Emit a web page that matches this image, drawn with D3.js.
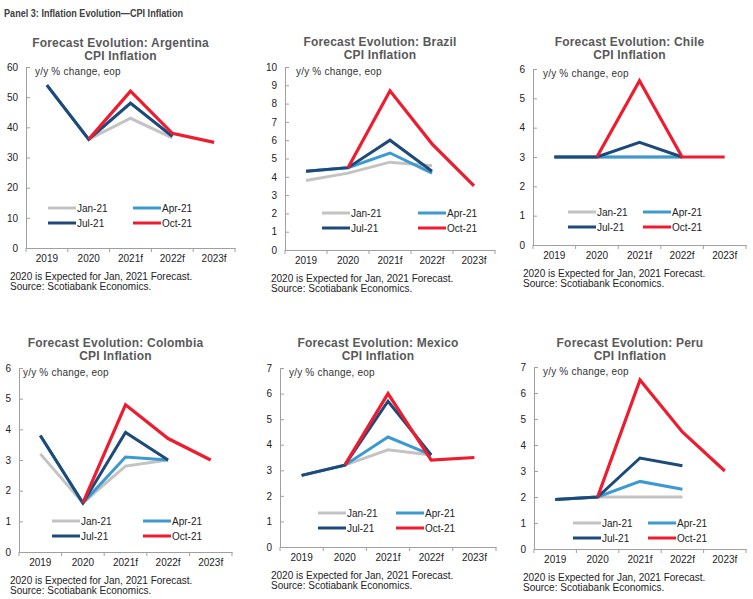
<!DOCTYPE html>
<html>
<head>
<meta charset="utf-8">
<script src="https://cdn.jsdelivr.net/npm/d3@7"></script>
<style>
  body { margin: 0; background: #fff; }
  svg { display: block; font-family: "Liberation Sans", Arial, sans-serif; }
</style>
</head>
<body>
<svg id="chart"></svg>
<script>
// categories
const years = ['2019', '2020', '2021f', '2022f', '2023f'];
const vintages = ['Jan-21', 'Apr-21', 'Jul-21', 'Oct-21'];
const countries = ['Argentina', 'Brazil', 'Chile', 'Colombia', 'Mexico', 'Peru'];
const yMax = [60, 10, 6, 6, 7, 7];
const yStep = [10, 1, 1, 1, 1, 1];

// series, one row per vintage (Jan, Apr, Jul, Oct), null = no value
const argentina = [
    [54, 36, 43, 36.5, null],
    [54, 36, 48, 37, null],
    [54, 36, 48, 37, null],
    [null, 36, 52, 38, 35]
];
const brazil = [
    [3.8, 4.2, 4.8, 4.6, null],
    [4.3, 4.5, 5.3, 4.2, null],
    [4.3, 4.5, 6.0, 4.3, null],
    [null, 4.5, 8.7, 5.8, 3.5]
];
const chile = [
    [3, 3, 3, 3, null],
    [3, 3, 3, 3, null],
    [3, 3, 3.5, 3, null],
    [null, 3, 5.6, 3, 3]
];
const colombia = [
    [3.2, 1.6, 2.8, 3.0, null],
    [3.8, 1.6, 3.1, 3.0, null],
    [3.8, 1.6, 3.9, 3.0, null],
    [null, 1.6, 4.8, 3.7, 3.0]
];
const mexico = [
    [2.8, 3.2, 3.8, 3.6, null],
    [2.8, 3.2, 4.3, 3.6, null],
    [2.8, 3.2, 5.7, 3.6, null],
    [null, 3.2, 6.0, 3.4, 3.5]
];
const peru = [
    [1.9, 2.0, 2.0, 2.0, null],
    [1.9, 2.0, 2.6, 2.3, null],
    [1.9, 2.0, 3.5, 3.2, null],
    [null, 2.0, 6.5, 4.5, 3.0]
];
const seriesByCountry = [argentina, brazil, chile, colombia, mexico, peru];

// layout of each panel (pixels)
const panels = [
    {left: 10, x0: 26, x1: 235, top: 67, bottom: 248, titleY: 47, legX: 22, legX2: 107, legY: 40, yyDx: 9},
    {left: 271, x0: 285, x1: 495, top: 67, bottom: 250, titleY: 46, legX: 37, legX2: 133, legY: 37, yyDx: 11},
    {left: 523, x0: 533, x1: 746, top: 69, bottom: 245, titleY: 46, legX: 35, legX2: 110, legY: 33, yyDx: 10},
    {left: 10, x0: 19, x1: 232, top: 368, bottom: 552, titleY: 347, legX: 33, legX2: 124, legY: 31, yyDx: 4},
    {left: 271, x0: 280, x1: 496, top: 368, bottom: 547, titleY: 347, legX: 38, legX2: 116, legY: 34, yyDx: 9},
    {left: 523, x0: 534, x1: 746, top: 367, bottom: 549, titleY: 347, legX: 39, legX2: 114, legY: 26, yyDx: 9}
];

const colors = ['#c3c3c3', '#3d9ad1', '#1d4a7a', '#ee1c2e'];
const axisColor = '#a0a0a0';

const width = 753;
const height = 599;

let svg = d3.select('#chart')
    .attr('width', width)
    .attr('height', height);

// header
svg.append('text')
    .attr('x', 4)
    .attr('y', 17)
    .attr('textLength', 179)
    .attr('lengthAdjust', 'spacingAndGlyphs')
    .style('font-family', '"Liberation Sans Narrow", "Arial Narrow", "Liberation Sans", sans-serif')
    .style('font-size', '11px')
    .style('font-weight', 'bold')
    .attr('fill', '#404040')
    .text('Panel 3: Inflation Evolution\u2014CPI Inflation');

const drawPanel = (p, i) => {
    let g = svg.append('g');
    let data = seriesByCountry[i];

    let xScale = d3.scaleBand()
        .domain(years)
        .range([p.x0, p.x1]);
    let yScale = d3.scaleLinear()
        .domain([0, yMax[i]])
        .range([p.bottom, p.top]);

    // title
    let cx = (p.x0 + p.x1) / 2 - 10;
    g.append('text')
        .attr('x', cx)
        .attr('y', p.titleY)
        .attr('text-anchor', 'middle')
        .style('font-size', '12px')
        .style('font-weight', 'bold')
        .style('letter-spacing', '0.2px')
        .attr('fill', '#595959')
        .text('Forecast Evolution: ' + countries[i]);
    g.append('text')
        .attr('x', cx)
        .attr('y', p.titleY + 13)
        .attr('text-anchor', 'middle')
        .style('font-size', '12px')
        .style('font-weight', 'bold')
        .style('letter-spacing', '0.2px')
        .attr('fill', '#595959')
        .text('CPI Inflation');

    // y axis
    let yAxis = d3.axisLeft(yScale)
        .tickValues(d3.range(0, yMax[i] + yStep[i] / 2, yStep[i]))
        .tickFormat(d3.format('d'))
        .tickSize(-4)
        .tickPadding(8)
        .tickSizeOuter(0);
    let ya = g.append('g')
        .attr('transform', 'translate(' + p.x0 + ',0)')
        .call(yAxis);
    ya.select('.domain').attr('stroke', axisColor);
    ya.selectAll('.tick line').attr('stroke', axisColor);
    ya.selectAll('.tick text')
        .style('font-size', '10px')
        .style('font-family', '"Liberation Sans", Arial, sans-serif')
        .attr('fill', '#222');

    // x axis: category labels, ticks between bands
    let xAxis = d3.axisBottom(xScale)
        .tickSize(0)
        .tickPadding(7)
        .tickSizeOuter(0);
    let xa = g.append('g')
        .attr('transform', 'translate(0,' + p.bottom + ')')
        .call(xAxis);
    xa.select('.domain').attr('stroke', axisColor);
    xa.selectAll('.tick text')
        .style('font-size', '10px')
        .style('font-family', '"Liberation Sans", Arial, sans-serif')
        .attr('fill', '#222');
    xa.selectAll('.sep')
        .data(years.concat(['end']))
        .enter()
        .append('line')
        .attr('class', 'sep')
        .attr('x1', (d, k) => p.x0 + k * xScale.step())
        .attr('x2', (d, k) => p.x0 + k * xScale.step())
        .attr('y1', 0)
        .attr('y2', 4)
        .attr('stroke', axisColor);

    // y/y label
    g.append('text')
        .attr('x', p.x0 + p.yyDx)
        .attr('y', p.top + 8)
        .style('font-size', '10px')
        .style('letter-spacing', '0.2px')
        .attr('fill', '#333')
        .text('y/y % change, eop');

    // legend
    vintages.forEach((v, k) => {
        let lx = p.x0 + (k % 2 === 0 ? p.legX : p.legX2);
        let ly = p.bottom - p.legY + Math.floor(k / 2) * 15;
        g.append('line')
            .attr('x1', lx)
            .attr('x2', lx + 28)
            .attr('y1', ly)
            .attr('y2', ly)
            .attr('stroke', colors[k])
            .attr('stroke-width', 3);
        g.append('text')
            .attr('x', lx + 29)
            .attr('y', ly + 3.5)
            .style('font-size', '10px')
            .attr('fill', '#222')
            .text(v);
    });

    // lines
    let line = d3.line()
        .defined(d => d.v !== null)
        .x(d => xScale(d.year) + xScale.bandwidth() / 2)
        .y(d => yScale(d.v));

    data.forEach((row, k) => {
        g.append('path')
            .datum(row.map((v, j) => ({year: years[j], v: v})))
            .attr('d', line)
            .attr('fill', 'none')
            .attr('stroke', colors[k])
            .attr('stroke-width', k === 3 ? 3.2 : 3)
            .attr('stroke-linejoin', 'miter');
    });

    // footnote
    g.append('text')
        .attr('x', p.left)
        .attr('y', p.bottom + 32)
        .style('font-size', '10px')
        .attr('fill', '#222')
        .text('2020 is Expected for Jan, 2021 Forecast.');
    g.append('text')
        .attr('x', p.left)
        .attr('y', p.bottom + 42)
        .style('font-size', '10px')
        .attr('fill', '#222')
        .text('Source: Scotiabank Economics.');
}

panels.forEach(drawPanel);
</script>
</body>
</html>
